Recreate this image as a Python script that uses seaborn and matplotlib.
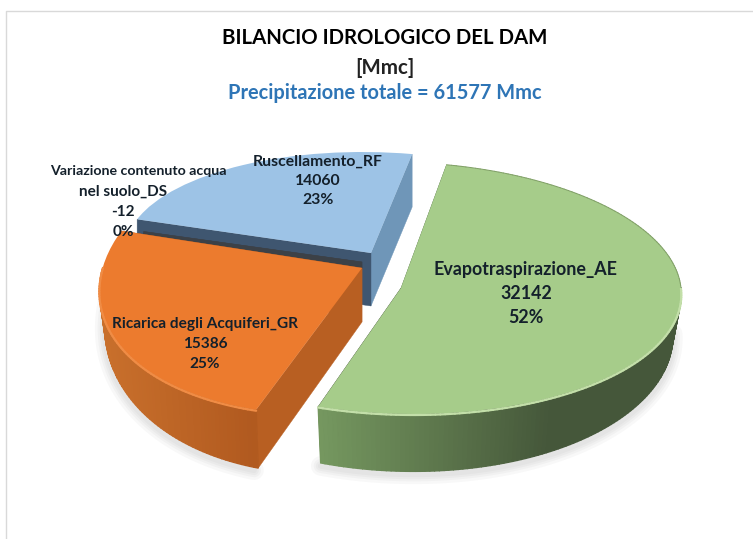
import numpy as np
import matplotlib
matplotlib.use("Agg")
import matplotlib.pyplot as plt
from matplotlib.colors import to_rgb
from matplotlib.transforms import Affine2D
import seaborn as sns

# values from the chart labels
labels = ["Evapotraspirazione_AE", "Ricarica degli Acquiferi_GR",
          "Variazione contenuto acqua", "Ruscellamento_RF"]
values = [32142, 15386, -12, 14060]
percents = ["52%", "25%", "0%", "23%"]
top_colors = ["#a6cc8a", "#ec7b2e", "#3f4a55", "#9dc3e6"]

sns.set_theme(style="white")
plt.rcParams["font.family"] = ["Lato", "DejaVu Sans"]

W, H = 753, 539
fig = plt.figure(figsize=(W / 100, H / 100), dpi=100, facecolor="white")
ax = fig.add_axes([0, 0, 1, 1])

# a pie can't take the negative value, so use the size of it
wedges, _ = ax.pie(np.abs(values), startangle=78, counterclock=False,
                   colors=top_colors, wedgeprops={"linewidth": 0})
ax.set_aspect("auto")
ax.set_xlim(0, W)
ax.set_ylim(H, 0)
ax.axis("off")

# 3d look: each slice has own placing
# cx, cy, a, s, t, b, wall depth, rim depth at cy, rim depth growth, rim shrink
placing = [
    (401, 288, 280, -13, 0, 126, 56, 41, 0.13, 0.03),
    (362, 268, 262, 18, 13, 146, 54, 30, 0.20, 0.02),
    (362, 262, 232, 0, 0, 90, 7, 7, 0, 0),
    (371, 253, 245, -10, 0.6, 101, 53, 50, 0, 0),
]
# rim colours left -> right, and colour of wall under the two cut edges
rims = [
    ("#75975f", "#45573a", "#46573a", "#5a7a48"),
    ("#c9702c", "#b0591f", "#b85f22", "#b85f22"),
    ("#3c4147", "#3c4147", "#3c4147", "#3c4147"),
    ("#6f95b8", "#6f95b8", "#6f96b8", "#3f5670"),
]
highlights = ["#c3dfa9", "#f08c45", "#3f4a55", "#b5d4ee"]


def unit(theta):
    t = np.deg2rad(theta)
    return np.column_stack([np.cos(t), np.sin(t)])


def draw_slice(i, z):
    w = wedges[i]
    cx, cy, a, s, t, b, wall_d, d0, grow, shrink = placing[i]
    c_left, c_right, wall_1, wall_2 = rims[i]
    m = Affine2D(np.array([[a, s, cx], [-t, -b, cy], [0, 0, 1]]))
    w.set_transform(m + ax.transData)
    w.set_zorder(z + 0.5)

    def lower(p):
        return (p[0] - (p[0] - cx) * shrink, p[1] + d0 + grow * (p[1] - cy))

    # side walls at the two cut edges
    for theta, col in [(w.theta1, wall_1), (w.theta2, wall_2)]:
        p = m.transform(unit(theta))[0]
        e = lower(p) if i < 2 else (p[0], p[1] + wall_d)
        ax.fill([cx, p[0], e[0], cx], [cy, p[1], e[1], cy + wall_d],
                color=col, lw=0.3, zorder=z)

    # outer rim as thin strips with colour going along x
    th = np.linspace(w.theta1, w.theta2, max(3, int(abs(w.theta2 - w.theta1))))
    pts = m.transform(unit(th))
    xmin, xmax = pts[:, 0].min(), pts[:, 0].max()
    c0, c1 = np.array(to_rgb(c_left)), np.array(to_rgb(c_right))
    low = []
    for p, q in zip(pts[:-1], pts[1:]):
        if max(p[1], q[1]) < cy:
            # back of the arc, no rim to see
            if i == 0:
                ax.plot([p[0], q[0]], [p[1], q[1]], color="#7f9f65", lw=0.7,
                        zorder=z + 0.6)
            continue
        # green goes dark early, by the middle of the slice
        f = np.clip((p[0] - 320) / 230, 0, 1) if i == 0 else (p[0] - xmin) / max(xmax - xmin, 1)
        lp, lq = lower(p), lower(q)
        low.append(lp)
        ax.fill([p[0], q[0], lq[0], lp[0]], [p[1], q[1], lq[1], lp[1]],
                color=c0 + (c1 - c0) * f, lw=1, zorder=z + 0.2)
        ax.plot([p[0], q[0]], [p[1] + 1, q[1] + 1], color=highlights[i],
                lw=1.6, solid_capstyle="round", zorder=z + 0.6)

    # soft shadow under the two front slices
    if i < 2:
        low = np.array(low)
        for lw in (14, 10, 7, 4):
            ax.plot(low[:, 0], low[:, 1] + 3, color="#777777", alpha=0.05, lw=lw,
                    solid_capstyle="round", zorder=1.5)


# back to front
for z, i in enumerate([3, 2, 1, 0]):
    draw_slice(i, 2 + z * 2)

# titles
fig.text(385 / W, 1 - 38 / H, "BILANCIO IDROLOGICO DEL DAM", ha="center", va="center",
         fontsize=14.7, fontweight="bold", color="black")
fig.text(385 / W, 1 - 68 / H, "[Mmc]", ha="center", va="center",
         fontsize=14.8, fontweight="bold", color="#222222")
fig.text(385 / W, 1 - 93 / H, "Precipitazione totale = 61577 Mmc", ha="center", va="center",
         fontsize=14.45, fontweight="bold", color="#2e75b6")

# data labels, each made from the arrays
lab_col = "#14202b"
lab_style = dict(ha="center", va="center", fontweight="bold", color=lab_col, zorder=30)
ax.text(526, 293.5, f"{labels[0]}\n{values[0]}\n{percents[0]}", fontsize=12.85,
        linespacing=1.47, **lab_style)
ax.text(205, 344, f"{labels[1]}\n{values[1]}\n{percents[1]}", fontsize=11.1,
        linespacing=1.55, **lab_style)
ax.text(318, 181, f"{labels[3]}\n{values[3]}\n{percents[3]}", fontsize=11.3,
        linespacing=1.5, **lab_style)
ax.text(138, 171, labels[2], fontsize=10.2, **lab_style)
ax.text(123, 212, f"nel suolo_DS\n{values[2]}\n{percents[2]}", fontsize=11,
        linespacing=1.55, **lab_style)

# thin grey frame of the pasted slide
ax.plot([6, 6, W], [H, 11, 11], color="#d9d9d9", lw=1, zorder=1)

fig.savefig("out.png", dpi=100, facecolor="white")
